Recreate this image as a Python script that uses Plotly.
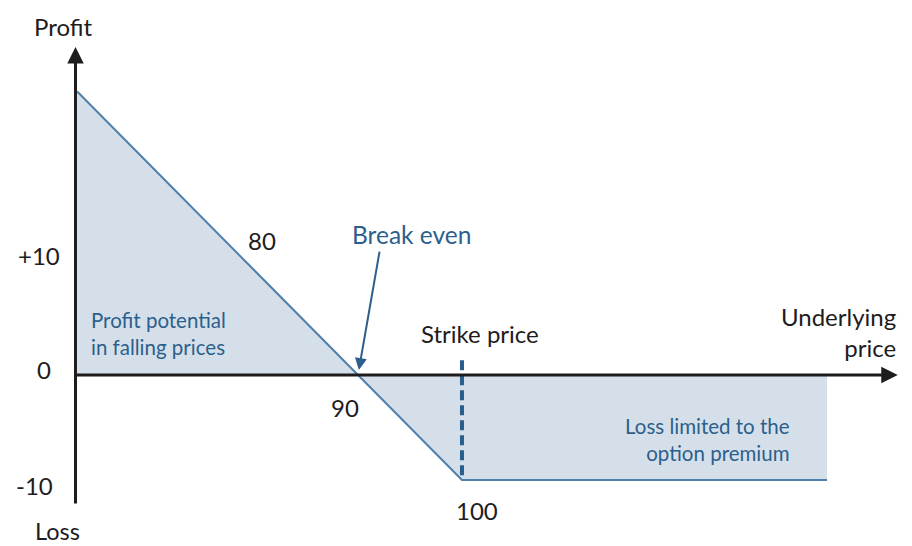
import plotly.graph_objects as go

# Payoff of a long put (strike 100, premium 10)
prices = [63, 90, 100, 135.1]
profit = [27, 0, -10, -10]

strike = 100
break_even = 90
x_tick_values = [80, 90, 100]
x_tick_labels = ["80", "90", "100"]
y_tick_values = [10, 0, -10]
y_tick_labels = ["+10", "0", "-10"]

LINE = "#4f7fab"
FILL = "#d5dfea"
TXT_BLUE = "#2c5f8c"
BLACK = "#1e1c1d"
FONT = "Lato"

X0 = 62.84   # position of the vertical axis
Y_TOP = 31.24
Y_BOT = -12.38
X_END = 141.9

fig = go.Figure()

fig.add_trace(go.Scatter(
    x=prices, y=profit, mode="lines",
    line=dict(color=LINE, width=2),
    fill="tozeroy", fillcolor=FILL,
    hoverinfo="skip", showlegend=False,
))

# strike dashed line
fig.add_trace(go.Scatter(
    x=[strike, strike], y=[1.4, -9.8], mode="lines",
    line=dict(color="#285e8c", width=4, dash="10px,5px"),
    hoverinfo="skip", showlegend=False,
))

ann = []
# axes arrows
ann.append(dict(x=X0, y=Y_TOP, ax=X0, ay=Y_BOT, xref="x", yref="y", axref="x", ayref="y",
                showarrow=True, arrowhead=2, arrowsize=1.1, arrowwidth=3, arrowcolor=BLACK, text=""))
ann.append(dict(x=X_END, y=0, ax=X0 - 0.15, ay=0, xref="x", yref="y", axref="x", ayref="y",
                showarrow=True, arrowhead=2, arrowsize=1.1, arrowwidth=3, arrowcolor=BLACK, text=""))


def txt(x, y, s, color=BLACK, size=24, xanchor="center", yanchor="middle", align="center", xs=0, ys=0):
    ann.append(dict(x=x, y=y, xref="x", yref="y", text=s, showarrow=False,
                    font=dict(family=FONT, size=size, color=color),
                    xanchor=xanchor, yanchor=yanchor, align=align, xshift=xs, yshift=ys))


txt(X0, 33.2, "Profit", xs=-12)
txt(X0, Y_BOT, "Loss", xs=-18, ys=-26, size=23.5)

# y tick labels
txt(X0, y_tick_values[0], y_tick_labels[0], xs=-37, ys=15)
txt(X0, y_tick_values[1], y_tick_labels[1], xs=-32, ys=6)
txt(X0, y_tick_values[2], y_tick_labels[2], xs=-41, ys=-5)

# x tick labels
txt(x_tick_values[0], 10, x_tick_labels[0], xs=8, ys=30)
txt(x_tick_values[1], 0, x_tick_labels[1], xs=-13, ys=-32)
txt(x_tick_values[2], -10, x_tick_labels[2], xs=15, ys=-30)

txt(strike, 0, "Strike price", xs=18, ys=42)
txt(X_END, 0, "Underlying<br>price", xanchor="right", align="right", xs=0, ys=43)

txt(X0, 0, "Profit potential<br>in falling prices", color=TXT_BLUE, size=20.5,
    xanchor="left", align="left", xs=13, ys=42)
txt(prices[-1], -5, "Loss limited to the<br>option premium", color=TXT_BLUE, size=20.5,
    xanchor="right", align="right", xs=-35, ys=-12)

# break even annotation
ann.append(dict(x=break_even, y=0, ax=92.1, ay=11.9, xref="x", yref="y", axref="x", ayref="y",
                showarrow=True, arrowhead=2, arrowsize=1.2, arrowwidth=2, arrowcolor=TXT_BLUE,
                standoff=5, text=""))
txt(95.1, 13.4, "Break even", color=TXT_BLUE, size=24.5)

fig.update_layout(
    width=912, height=546,
    margin=dict(l=0, r=0, t=0, b=0),
    paper_bgcolor="white", plot_bgcolor="white",
    xaxis=dict(range=[56.349, 144.04], visible=False, fixedrange=True),
    yaxis=dict(range=[-17.048, 34.952], visible=False, fixedrange=True),
    annotations=ann,
    showlegend=False,
)

fig.write_html("out.html")
